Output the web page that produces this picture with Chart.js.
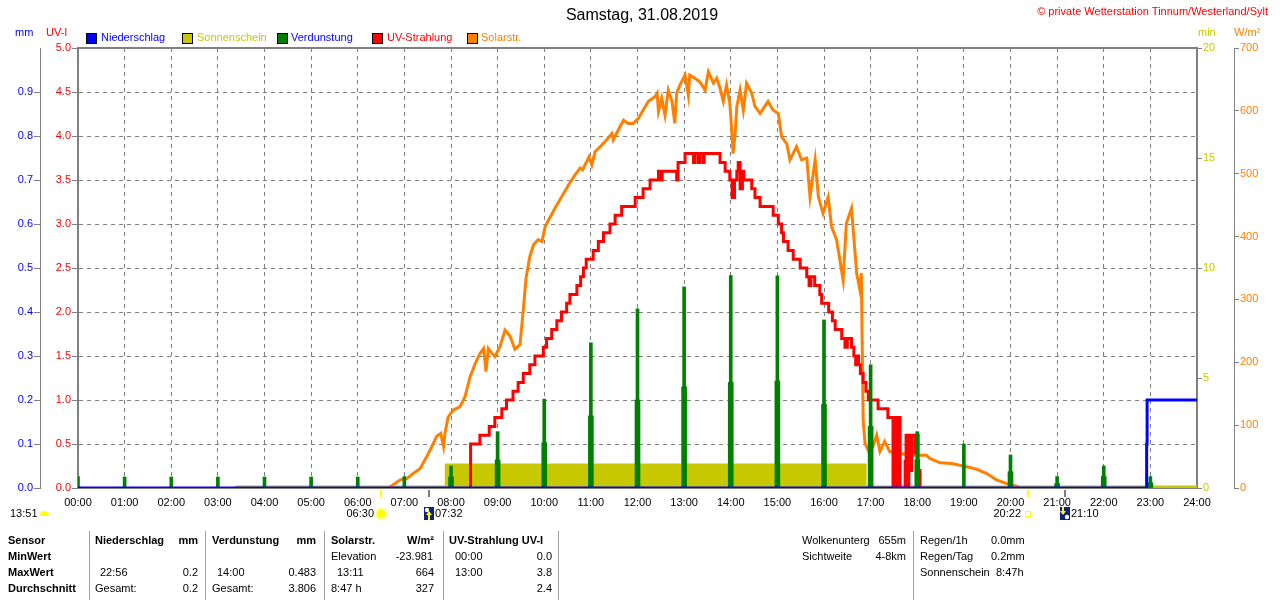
<!DOCTYPE html>
<html lang="de">
<head>
<meta charset="UTF-8" />
<meta name="viewport" content="width=device-width, initial-scale=1.0" />
<title>Wetterstation Tinnum - 31.08.2019</title>
<script src="https://cdn.jsdelivr.net/npm/chart.js"></script>
<style>
  body { margin: 0; background: #fff; font-family: 'Liberation Sans', Arial, sans-serif; font-size: 11px; color: #000; }
  #wrap { position: relative; width: 1280px; height: 600px; overflow: hidden; }
  #chart { position: absolute; left: 0; top: 0; }
  .t { position: absolute; white-space: nowrap; line-height: 13px; }
  .b { font-weight: bold; }
  .box { position: absolute; top: 33px; width: 9px; height: 9px; border: 1px solid #000; }
  .sep { position: absolute; top: 531px; width: 1px; height: 69px; background: #a0a0a0; }
</style>
</head>
<body>
<div id="wrap">
  <canvas id="chart" width="1280" height="600"></canvas>

  <div class="t" style="left:2px;width:1280px;text-align:center;top:6px;font-size:16px;line-height:18px">Samstag, 31.08.2019</div>
  <div class="t" style="right:12px;top:5px;color:#f00">© private Wetterstation Tinnum/Westerland/Sylt</div>

  <div class="t" style="left:15px;top:26px;color:#00f">mm</div>
  <div class="t" style="left:46px;top:26px;color:#f00">UV-I</div>
  <div class="t" style="left:1198px;top:26px;color:#c8c800">min</div>
  <div class="t" style="left:1234px;top:26px;color:#ff8000">W/m²</div>

  <!-- legend -->
  <div class="box" style="left:86px;background:#00f"></div>
  <div class="t" style="left:101px;top:31px;color:#00f">Niederschlag</div>
  <div class="box" style="left:182px;background:#c8c800"></div>
  <div class="t" style="left:197px;top:31px;color:#c8c800">Sonnenschein</div>
  <div class="box" style="left:277px;background:#008000"></div>
  <div class="t" style="left:291px;top:31px;color:#00f">Verdunstung</div>
  <div class="box" style="left:372px;background:#f00"></div>
  <div class="t" style="left:387px;top:31px;color:#f00">UV-Strahlung</div>
  <div class="box" style="left:467px;background:#ff8000"></div>
  <div class="t" style="left:481px;top:31px;color:#ff8000">Solarstr.</div>

  <!-- table below the chart -->
  <div class="sep" style="left:89px"></div>
  <div class="sep" style="left:205px"></div>
  <div class="sep" style="left:324px"></div>
  <div class="sep" style="left:443px"></div>
  <div class="sep" style="left:558px"></div>
  <div class="sep" style="left:913px"></div>

  <div class="t b" style="left:8px;top:534px">Sensor</div>
  <div class="t b" style="left:8px;top:550px">MinWert</div>
  <div class="t b" style="left:8px;top:566px">MaxWert</div>
  <div class="t b" style="left:8px;top:582px">Durchschnitt</div>

  <div class="t b" style="left:95px;top:534px">Niederschlag</div>
  <div class="t b" style="right:1082px;top:534px">mm</div>
  <div class="t" style="left:100px;top:566px">22:56</div>
  <div class="t" style="right:1082px;top:566px">0.2</div>
  <div class="t" style="left:95px;top:582px">Gesamt:</div>
  <div class="t" style="right:1082px;top:582px">0.2</div>

  <div class="t b" style="left:212px;top:534px">Verdunstung</div>
  <div class="t b" style="right:964px;top:534px">mm</div>
  <div class="t" style="left:217px;top:566px">14:00</div>
  <div class="t" style="right:964px;top:566px">0.483</div>
  <div class="t" style="left:212px;top:582px">Gesamt:</div>
  <div class="t" style="right:964px;top:582px">3.806</div>

  <div class="t b" style="left:331px;top:534px">Solarstr.</div>
  <div class="t b" style="right:846px;top:534px">W/m²</div>
  <div class="t" style="left:331px;top:550px">Elevation</div>
  <div class="t" style="right:847px;top:550px">-23.981</div>
  <div class="t" style="left:337px;top:566px">13:11</div>
  <div class="t" style="right:846px;top:566px">664</div>
  <div class="t" style="left:331px;top:582px">8:47 h</div>
  <div class="t" style="right:846px;top:582px">327</div>

  <div class="t b" style="left:449px;top:534px">UV-Strahlung UV-I</div>
  <div class="t" style="left:455px;top:550px">00:00</div>
  <div class="t" style="right:728px;top:550px">0.0</div>
  <div class="t" style="left:455px;top:566px">13:00</div>
  <div class="t" style="right:728px;top:566px">3.8</div>
  <div class="t" style="right:728px;top:582px">2.4</div>

  <div class="t" style="left:802px;top:534px">Wolkenunterg</div>
  <div class="t" style="right:374px;top:534px">655m</div>
  <div class="t" style="left:802px;top:550px">Sichtweite</div>
  <div class="t" style="right:374px;top:550px">4-8km</div>

  <div class="t" style="left:920px;top:534px">Regen/1h</div>
  <div class="t" style="left:991px;top:534px">0.0mm</div>
  <div class="t" style="left:920px;top:550px">Regen/Tag</div>
  <div class="t" style="left:991px;top:550px">0.2mm</div>
  <div class="t" style="left:920px;top:566px">Sonnenschein</div>
  <div class="t" style="left:996px;top:566px">8:47h</div>

  <div class="t" style="left:10px;top:507px">13:51</div>
  <div style="position:absolute;left:40px;top:511px;width:9px;height:5px;background:#ffff00;border-radius:5px 5px 0 0"></div>
</div>

<script>
// times are hours of the day (decimal)
const hourTicks = [0, 24];

// Niederschlag (mm, cumulative)
const precipTimes = [0, 22.92, 22.93, 24];
const precipValues = [0, 0.1, 0.2, 0.2];

// Sonnenschein (min per minute)
const sunTimes = [3.37, 7.92, 16.86, 24];
const sunMinutes = [0, 1, 0, 0];

// Verdunstung (mm) at each full hour, plus the smaller second reading
const evapHours = [0, 1, 2, 3, 4, 5, 6, 7, 8, 9, 10, 11, 12, 13, 14, 15, 16, 17, 18, 19, 20, 21, 22, 23];
const evapValues = [0.026, 0.025, 0.025, 0.025, 0.025, 0.025, 0.025, 0.026, 0.05, 0.128, 0.202, 0.33,
  0.407, 0.457, 0.483, 0.482, 0.382, 0.28, 0.128, 0.10, 0.075, 0.026, 0.05, 0.026];
const evapSecond = [0, 0, 0, 0, 0, 0, 0, 0, 0.025, 0.064, 0.103, 0.164,
  0.2, 0.23, 0.24, 0.243, 0.19, 0.14, 0.064, 0, 0.037, 0.01, 0.026, 0.012];

// UV-Strahlung (UV-I), zero outside 08:25 - 18:04
const uvTimes = [8.42, 8.42, 8.62, 8.82, 8.94, 9.09, 9.19, 9.33, 9.44, 9.55, 9.69, 9.80, 9.98,
  10.05, 10.16, 10.27, 10.37, 10.48, 10.55, 10.70, 10.78, 10.84, 10.90, 11.05, 11.16, 11.27,
  11.41, 11.52, 11.66, 11.95, 12.12, 12.27, 12.45, 12.50, 12.53, 12.84, 12.87, 13.02, 13.20,
  13.23, 13.30, 13.33, 13.40, 13.43, 13.77, 13.88, 13.98, 14.03, 14.08, 14.13, 14.16, 14.20,
  14.25, 14.28, 14.45, 14.52, 14.63, 14.91, 15.02, 15.09, 15.13, 15.23, 15.34, 15.49, 15.63,
  15.68, 15.72, 15.80, 15.91, 15.95, 16.10, 16.18, 16.24, 16.38, 16.45, 16.50, 16.59, 16.64,
  16.68, 16.70, 16.74, 16.78, 16.84, 16.90, 16.95, 17.16, 17.37, 17.48, 17.50, 17.55, 17.57,
  17.63, 17.74, 17.76, 17.80, 17.82, 17.86, 17.88, 17.95, 17.97, 18.02, 18.06];
const uvValues = [0, 0.5, 0.6, 0.7, 0.8, 0.9, 1.0, 1.1, 1.2, 1.3, 1.4, 1.5, 1.6,
  1.7, 1.8, 1.9, 2.0, 2.1, 2.2, 2.3, 2.4, 2.5, 2.6, 2.7, 2.8, 2.9,
  3.0, 3.1, 3.2, 3.3, 3.4, 3.5, 3.6, 3.5, 3.6, 3.5, 3.7, 3.8, 3.7,
  3.8, 3.7, 3.8, 3.7, 3.8, 3.7, 3.6, 3.5, 3.3, 3.5, 3.6, 3.7, 3.4,
  3.6, 3.5, 3.4, 3.3, 3.2, 3.1, 3.0, 2.9, 2.8, 2.7, 2.6, 2.5, 2.4,
  2.3, 2.4, 2.3, 2.2, 2.1, 2.0, 1.9, 1.8, 1.7, 1.6, 1.7, 1.6, 1.5,
  1.4, 1.5, 1.4, 1.3, 1.2, 1.1, 1.0, 0.9, 0.8, 0, 0.8, 0, 0.8,
  0, 0.3, 0.6, 0, 0.6, 0.2, 0.6, 0.4, 0.6, 0.2, 0];

// Solarstrahlung (W/m²), zero outside 06:40 - 20:12
const solarTimes = [6.66, 6.91, 7.05, 7.19, 7.34, 7.48, 7.59, 7.69, 7.78, 7.84, 7.87, 7.94,
  8.05, 8.19, 8.30, 8.41, 8.52, 8.62, 8.70, 8.75, 8.80, 8.87, 8.94, 9.05, 9.16, 9.27, 9.37,
  9.48, 9.55, 9.61, 9.69, 9.77, 9.87, 9.95, 10.02, 10.09, 10.23, 10.37, 10.52, 10.66, 10.77,
  10.82, 10.91, 10.96, 11.02, 11.09, 11.20, 11.34, 11.45, 11.48, 11.59, 11.70, 11.80, 11.91,
  12.02, 12.12, 12.23, 12.38, 12.42, 12.45, 12.52, 12.59, 12.66, 12.74, 12.80, 12.84, 12.91,
  13.02, 13.09, 13.12, 13.23, 13.34, 13.45, 13.52, 13.63, 13.70, 13.77, 13.84, 13.91, 13.98,
  14.02, 14.05, 14.09, 14.13, 14.20, 14.27, 14.34, 14.45, 14.52, 14.63, 14.73, 14.80, 14.91,
  15.02, 15.09, 15.20, 15.27, 15.41, 15.52, 15.63, 15.70, 15.81, 15.88, 15.98, 16.09, 16.16,
  16.27, 16.41, 16.48, 16.59, 16.70, 16.77, 16.80, 16.84, 16.88, 16.95, 17.05, 17.13, 17.20,
  17.30, 17.41, 17.63, 17.92, 18.20, 18.27, 18.49, 18.74, 18.99, 19.27, 19.49, 19.70, 19.92,
  20.13, 20.20];
const solarValues = [0, 13, 15, 23, 31, 50, 66, 82, 87, 66, 87, 113,
  124, 129, 145, 177, 198, 214, 222, 185, 222, 215, 209, 225, 251, 241, 221,
  228, 283, 334, 368, 387, 395, 392, 416, 426, 445, 463, 482, 498, 509,
  506, 519, 527, 514, 535, 543, 554, 564, 554, 570, 585, 580, 580,
  588, 601, 615, 623, 628, 599, 620, 593, 633, 615, 580, 628, 641,
  657, 625, 657, 652, 646, 633, 662, 644, 652, 636, 615, 641, 612,
  570, 532, 560, 607, 633, 601, 644, 628, 607, 596, 607, 615, 601,
  596, 559, 548, 522, 543, 522, 525, 463, 522, 463, 437, 463, 416,
  395, 331, 421, 445, 342, 315, 342, 108, 71, 60, 66, 84, 58,
  74, 58, 55, 52, 52, 47, 40, 39, 35, 30, 23, 13, 7,
  3, 0];

// Sonnenauf-/untergang, Mondauf-/untergang
const sunEvents = ['06:30', '20:22'];
const moonEvents = ['07:32', '21:10'];

function toHours(s) {
  const [h, m] = s.split(':').map(Number);
  return h + m / 60;
}
function points(xs, ys) {
  return xs.map((x, i) => ({ x: x, y: ys[i] }));
}

const grey = '#808080';
Chart.defaults.font.family = "'Liberation Sans', Arial, sans-serif";
Chart.defaults.font.size = 11;
Chart.defaults.color = '#000';

// top frame line plus the sun / moon markers under the time axis
const markers = {
  id: 'markers',
  afterDraw(chart) {
    const ctx = chart.ctx;
    const a = chart.chartArea;
    const xs = chart.scales.x;
    ctx.save();
    ctx.strokeStyle = grey;
    ctx.lineWidth = 2;
    ctx.beginPath();
    ctx.moveTo(a.left - 1, a.top);
    ctx.lineTo(a.right + 1, a.top);
    ctx.stroke();

    const y = a.bottom + 26;
    sunEvents.forEach((t, i) => {
      const px = Math.round(xs.getPixelForValue(toHours(t)));
      ctx.fillStyle = '#ffff00';
      ctx.fillRect(px - 1, a.bottom + 2, 2, 7);
      if (i === 0) {
        ctx.fillStyle = '#ffffb0';
        ctx.beginPath(); ctx.arc(px, y, 6.5, 0, Math.PI * 2); ctx.fill();
        ctx.fillStyle = '#ffff00';
        ctx.beginPath(); ctx.arc(px, y, 4.5, 0, Math.PI * 2); ctx.fill();
      } else {
        ctx.strokeStyle = '#ffff00';
        ctx.lineWidth = 1;
        ctx.strokeRect(px - 2.5, y - 2.5, 5, 5);
      }
    });
    moonEvents.forEach((t, i) => {
      const px = Math.round(xs.getPixelForValue(toHours(t)));
      ctx.fillStyle = grey;
      ctx.fillRect(px - 1, a.bottom + 2, 2, 7);
      const bx = px - 5, by = y - 7;
      ctx.fillStyle = '#102080';
      ctx.fillRect(bx, by, 10, 13);
      ctx.fillStyle = '#ffffff';
      ctx.beginPath();
      if (i === 0) ctx.arc(bx + 3, by + 3, 2.2, 0, Math.PI * 2);
      else ctx.arc(bx + 7, by + 10, 2.2, 0, Math.PI * 2);
      ctx.fill();
      ctx.fillStyle = '#ffff00';
      ctx.beginPath();
      if (i === 0) {
        ctx.moveTo(bx + 5, by + 4); ctx.lineTo(bx + 8, by + 8); ctx.lineTo(bx + 2, by + 8);
        ctx.fill(); ctx.fillRect(bx + 4, by + 8, 2, 5);
      } else {
        ctx.fillRect(bx + 2, by, 2, 4);
        ctx.moveTo(bx + 3, by + 8); ctx.lineTo(bx, by + 4); ctx.lineTo(bx + 6, by + 4);
        ctx.fill();
      }
    });
    ctx.restore();
  }
};

const ctx = document.getElementById('chart').getContext('2d');
const chart = new Chart(ctx, {
  type: 'line',
  data: {
    datasets: [
      {
        label: 'Niederschlag',
        data: points(precipTimes, precipValues),
        yAxisID: 'yMM',
        borderColor: '#0000ff',
        borderWidth: 3,
        stepped: true,
        pointRadius: 0,
        order: 0
      },
      {
        type: 'bar',
        label: 'Verdunstung',
        data: points(evapHours, evapValues),
        yAxisID: 'yMM',
        backgroundColor: '#008000',
        borderWidth: 0,
        barThickness: 3,
        grouped: false,
        order: 1
      },
      {
        type: 'bar',
        label: 'Verdunstung (2)',
        data: points(evapHours, evapSecond),
        yAxisID: 'yMM',
        backgroundColor: '#008000',
        borderWidth: 0,
        barThickness: 5,
        grouped: false,
        order: 1
      },
      {
        label: 'UV-Strahlung',
        data: points(uvTimes, uvValues),
        yAxisID: 'yUV',
        borderColor: '#ff0000',
        borderWidth: 3,
        stepped: true,
        pointRadius: 0,
        order: 2
      },
      {
        label: 'Solarstr.',
        data: points(solarTimes, solarValues),
        yAxisID: 'yW',
        borderColor: '#ff8000',
        borderWidth: 3,
        tension: 0,
        pointRadius: 0,
        order: 3
      },
      {
        label: 'Sonnenschein',
        data: points(sunTimes, sunMinutes),
        yAxisID: 'yMin',
        borderColor: '#c8c800',
        backgroundColor: '#c8c800',
        borderWidth: 5,
        stepped: true,
        fill: 'origin',
        pointRadius: 0,
        order: 4
      }
    ]
  },
  options: {
    responsive: false,
    animation: false,
    events: [],
    layout: { padding: { top: 48 } },
    plugins: { legend: { display: false }, tooltip: { enabled: false } },
    scales: {
      x: {
        type: 'linear',
        min: hourTicks[0],
        max: hourTicks[1],
        offset: false,
        afterFit: s => { s.height = 112; },
        ticks: {
          stepSize: 1,
          padding: 8,
          maxRotation: 0,
          autoSkip: false,
          color: '#000',
          callback: v => String(v).padStart(2, '0') + ':00'
        },
        grid: { color: grey, lineWidth: 1, drawTicks: false, offset: false },
        border: { display: true, color: grey, width: 2, dash: [4, 4] }
      },
      yMM: {
        position: 'left',
        weight: 1,
        min: 0,
        max: 1,
        afterFit: s => { s.width = 40; },
        afterBuildTicks: s => { s.ticks = s.ticks.filter(t => t.value < 0.999); },
        ticks: { stepSize: 0.1, color: '#0000ff', padding: 1, callback: v => v.toFixed(1) },
        grid: { drawOnChartArea: false, color: grey, tickLength: 6, tickBorderDash: [] },
        border: { color: grey, width: 1 }
      },
      yUV: {
        position: 'left',
        weight: 0,
        min: 0,
        max: 5,
        afterFit: s => { s.width = 38; },
        ticks: { stepSize: 0.5, color: '#ff0000', padding: 1, callback: v => v.toFixed(1) },
        grid: { color: grey, lineWidth: 1, tickLength: 6, tickColor: grey, tickBorderDash: [] },
        border: { color: grey, width: 2, dash: [4, 4] }
      },
      yMin: {
        position: 'right',
        weight: 0,
        min: 0,
        max: 20,
        afterFit: s => { s.width = 37; },
        ticks: { stepSize: 5, color: '#c8c800', padding: 1 },
        grid: { drawOnChartArea: false, color: grey, tickLength: 5, tickBorderDash: [] },
        border: { color: grey, width: 2 }
      },
      yW: {
        position: 'right',
        weight: 1,
        min: 0,
        max: 700,
        afterFit: s => { s.width = 46; },
        ticks: { stepSize: 100, color: '#ff8000', padding: 1 },
        grid: { drawOnChartArea: false, color: grey, tickLength: 5, tickBorderDash: [] },
        border: { color: grey, width: 1 }
      }
    }
  },
  plugins: [markers]
});

// time labels for the sun / moon markers
const xs = chart.scales.x;
const wrap = document.getElementById('wrap');
function timeLabel(text, px, alignRight) {
  const d = document.createElement('div');
  d.className = 't';
  d.textContent = text;
  d.style.top = (chart.chartArea.bottom + 19) + 'px';
  if (alignRight) d.style.right = (1280 - px) + 'px';
  else d.style.left = px + 'px';
  wrap.appendChild(d);
}
sunEvents.forEach(t => timeLabel(t, Math.round(xs.getPixelForValue(toHours(t))) - 7, true));
moonEvents.forEach(t => timeLabel(t, Math.round(xs.getPixelForValue(toHours(t))) + 6, false));
</script>
</body>
</html>
